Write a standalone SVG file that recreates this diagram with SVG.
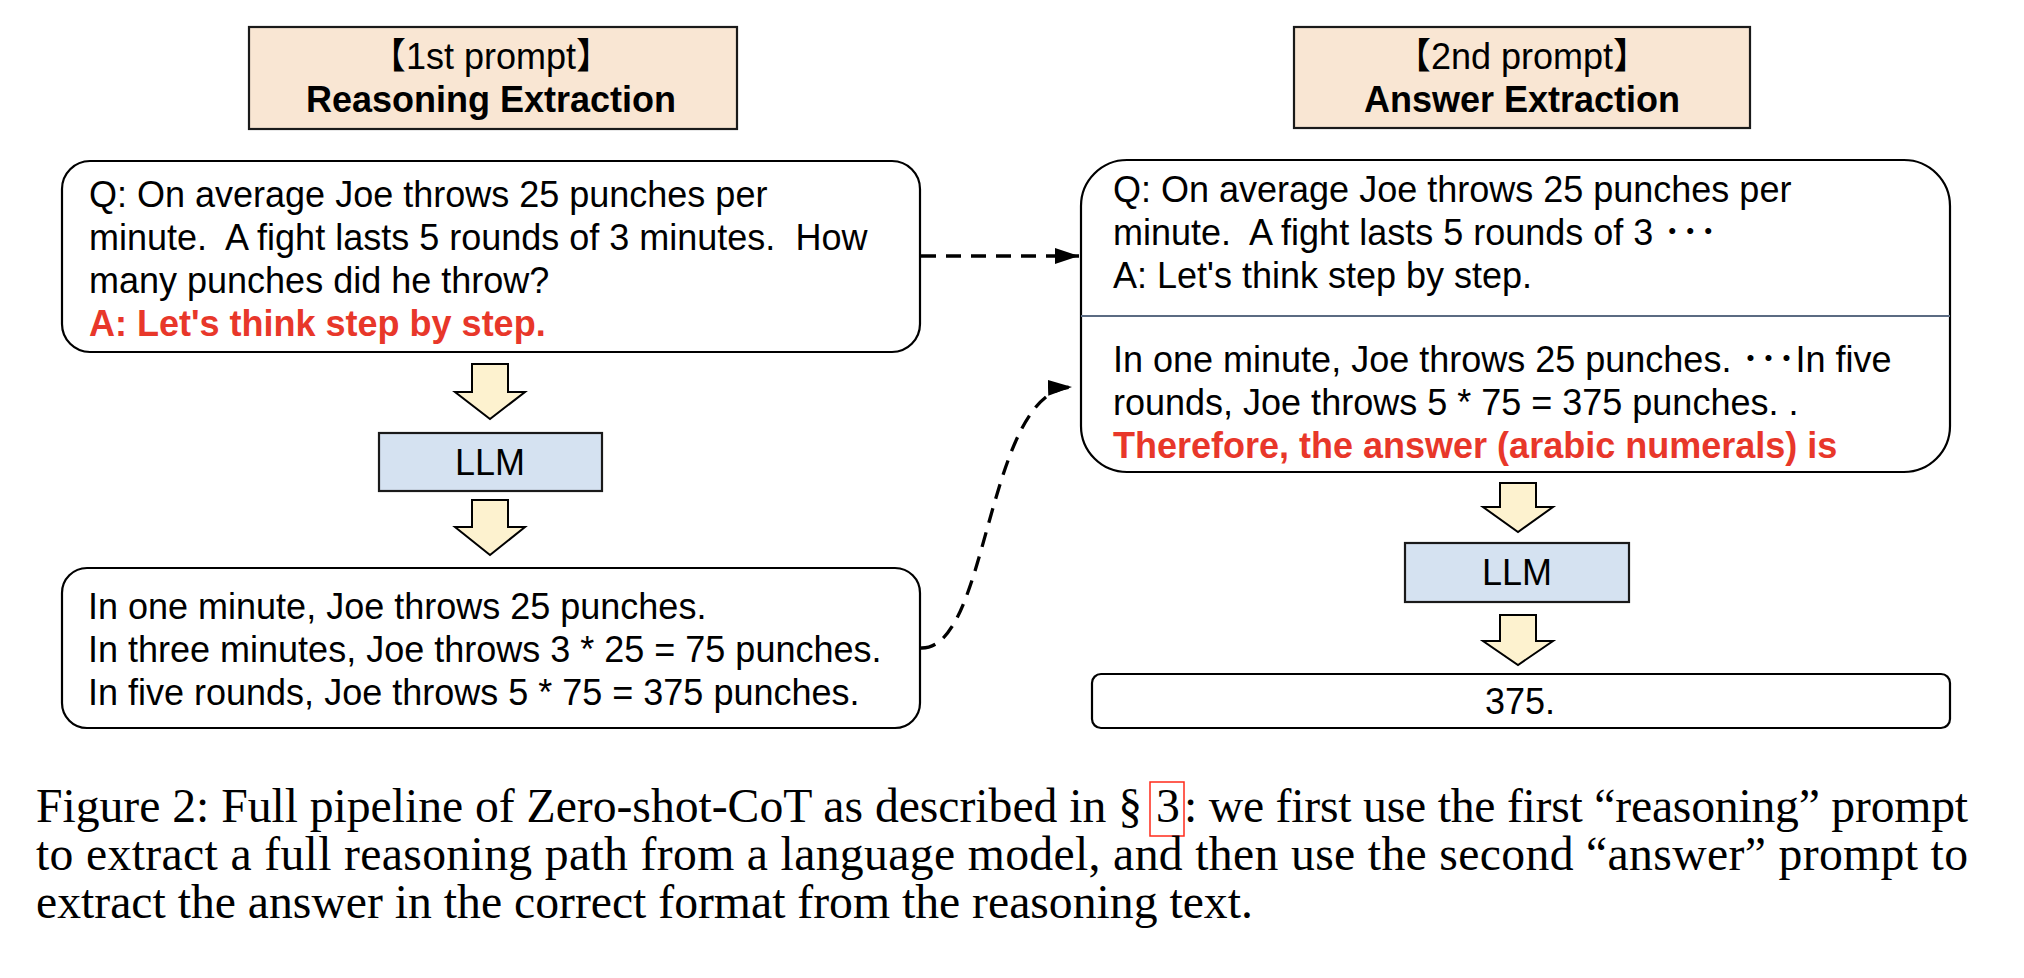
<svg xmlns="http://www.w3.org/2000/svg" width="2024" height="978" viewBox="0 0 2024 978">
<style>
.t{font-family:"Liberation Sans","Noto Sans CJK JP",Arial,sans-serif;font-size:36px;fill:#000}
.b{font-weight:bold}
.red{fill:#e8372a;font-weight:bold}
.mid{text-anchor:middle}
.title{fill:#f9e6d3;stroke:#1a1a1a;stroke-width:2.2}
.box{fill:#fff;stroke:#000;stroke-width:2.2}
.llm{fill:#d5e2f1;stroke:#1a1a1a;stroke-width:2.2}
.barrow{fill:#fdf2cf;stroke:#000;stroke-width:2}
.dash{fill:none;stroke:#000;stroke-width:3.3;stroke-dasharray:15 10}
.cap{font-family:"Liberation Serif","Times New Roman",serif;font-size:47.7px;fill:#000}
</style>
<defs>
<marker id="ah" markerUnits="userSpaceOnUse" viewBox="0 0 24 16" refX="24" refY="8" markerWidth="24" markerHeight="16" orient="auto">
<path d="M0,0 L24,8 L0,16 Z" fill="#000"/>
</marker>
</defs>
<rect width="2024" height="978" fill="#fff"/>

<g id="title1">
<rect class="title" x="249" y="27" width="488" height="102"/>
<text class="t mid" x="491" y="69">【1st prompt】</text>
<text class="t b mid" x="491" y="112">Reasoning Extraction</text>
</g>

<g id="title2">
<rect class="title" x="1294" y="27" width="456" height="101"/>
<text class="t mid" x="1522" y="69">【2nd prompt】</text>
<text class="t b mid" x="1522" y="112">Answer Extraction</text>
</g>

<g id="question1">
<rect class="box" x="62" y="161" width="858" height="191" rx="28" ry="28"/>
<text class="t" x="89" y="207">Q: On average Joe throws 25 punches per</text>
<text class="t" x="89" y="250" xml:space="preserve">minute.  A fight lasts 5 rounds of 3 minutes.  How</text>
<text class="t" x="89" y="293">many punches did he throw?</text>
<text class="t red" x="89" y="336">A: Let's think step by step.</text>
</g>

<g id="arrow-l1">
<path class="barrow" d="M472,364 H508 V392 H525 L490,419 L455,392 H472 Z"/>
</g>

<g id="llm1">
<rect class="llm" x="379" y="433" width="223" height="58"/>
<text class="t mid" x="490" y="475">LLM</text>
</g>

<g id="arrow-l2">
<path class="barrow" d="M472,500 H508 V527 H525 L490,555 L455,527 H472 Z"/>
</g>

<g id="reasoning1">
<rect class="box" x="62" y="568" width="858" height="160" rx="25" ry="25"/>
<text class="t" x="88" y="619">In one minute, Joe throws 25 punches.</text>
<text class="t" x="88" y="662">In three minutes, Joe throws 3 * 25 = 75 punches.</text>
<text class="t" x="88" y="705">In five rounds, Joe throws 5 * 75 = 375 punches.</text>
</g>

<g id="prompt2">
<rect class="box" x="1081" y="160" width="869" height="312" rx="46" ry="46"/>
<line x1="1081" y1="316" x2="1950" y2="316" stroke="#5b6b82" stroke-width="2"/>
<text class="t" x="1113" y="202">Q: On average Joe throws 25 punches per</text>
<text class="t" x="1113" y="245" xml:space="preserve">minute.  A fight lasts 5 rounds of 3 ･･･</text>
<text class="t" x="1113" y="288">A: Let's think step by step.</text>
<text class="t" x="1113" y="372">In one minute, Joe throws 25 punches. ･･･In five</text>
<text class="t" x="1113" y="415">rounds, Joe throws 5 * 75 = 375 punches. .</text>
<text class="t red" x="1113" y="458">Therefore, the answer (arabic numerals) is</text>
</g>

<g id="arrow-r1">
<path class="barrow" d="M1500,483 H1536 V507 H1553 L1518,532 L1483,507 H1500 Z"/>
</g>

<g id="llm2">
<rect class="llm" x="1405" y="543" width="224" height="59"/>
<text class="t mid" x="1517" y="585">LLM</text>
</g>

<g id="arrow-r2">
<path class="barrow" d="M1500,615 H1536 V641 H1553 L1518,665 L1483,641 H1500 Z"/>
</g>

<g id="answer">
<rect class="box" x="1092" y="674" width="858" height="54" rx="9" ry="9"/>
<text class="t mid" x="1520" y="714">375.</text>
</g>

<g id="connectors">
<line class="dash" x1="921" y1="256" x2="1079" y2="256" marker-end="url(#ah)"/>
<path class="dash" d="M921,648 C990,650 985,390 1072,387" marker-end="url(#ah)"/>
</g>

<g id="caption">
<text class="cap" x="36" y="822" textLength="1106" lengthAdjust="spacing">Figure 2: Full pipeline of Zero-shot-CoT as described in §</text>
<rect x="1150" y="782" width="34" height="54" fill="none" stroke="#ff2a1a" stroke-width="1.5"/>
<text class="cap" x="1156" y="822">3</text>
<text class="cap" x="1184" y="822" textLength="784" lengthAdjust="spacing">: we first use the first “reasoning” prompt</text>
<text class="cap" x="36" y="870" textLength="1932" lengthAdjust="spacing">to extract a full reasoning path from a language model, and then use the second “answer” prompt to</text>
<text class="cap" x="36" y="918">extract the answer in the correct format from the reasoning text.</text>
</g>
</svg>
